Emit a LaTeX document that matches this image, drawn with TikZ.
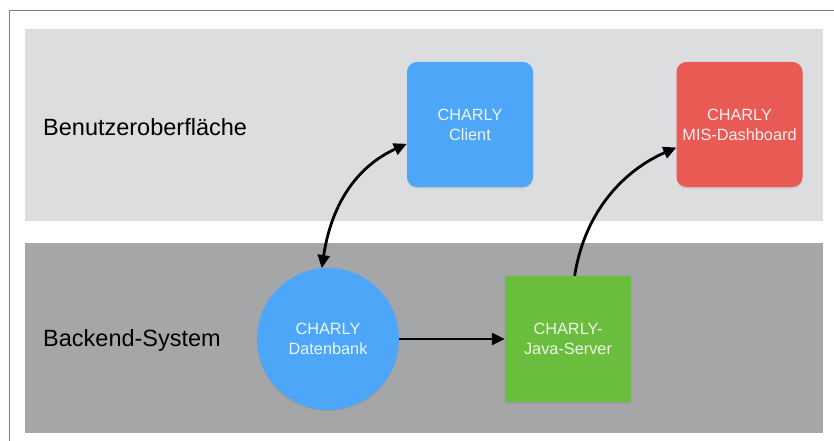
\documentclass[tikz,border=0pt]{standalone}
\usepackage{fontspec}
\setmainfont{Liberation Sans}
\usetikzlibrary{arrows.meta,shadows}
\definecolor{bandtop}{HTML}{DCDDDF}
\definecolor{bandbot}{HTML}{A4A6A7}
\definecolor{cblue}{HTML}{4DA6F7}
\definecolor{cred}{HTML}{E95A55}
\definecolor{cgreen}{HTML}{6BBE3D}
\definecolor{framegray}{HTML}{7F7F7F}
\tikzset{
  band/.style={fill=#1, draw=none},
  lbl/.style={font=\fontsize{23.5}{28}\selectfont, anchor=west, inner sep=0pt, text=black},
  boxtxt/.style={font=\fontsize{16.3}{20}\selectfont, align=center},
  sq/.style={draw=none, minimum width=126pt, minimum height=125pt, inner sep=0pt, boxtxt,
             drop shadow={opacity=0.2, shadow xshift=0pt, shadow yshift=-1.5pt}},
  rsq/.style={sq, rounded corners=10pt},
  conn/.style={line width=2.8pt, black},
  tip/.style={-{Triangle[length=13pt,width=12pt]}},
  dtip/.style={{Triangle[length=13pt,width=12pt]}-{Triangle[length=13pt,width=12pt]}}
}
\begin{document}
\begin{tikzpicture}[x=1pt,y=-1pt]
\useasboundingbox (0,0) rectangle (834,441);
\fill[white] (0,0) rectangle (834,441);
% outer frame
\draw[framegray, line width=1pt] (9.5,441) -- (9.5,10.7) -- (834,10.7);
% bands
\fill[band=bandtop] (25,29.5) rectangle (823,221);
\fill[band=bandbot] (25,243) rectangle (823,432.5);
% labels
\node[lbl] (lui) at (43,127) {Benutzeroberfläche};
\node[lbl] (lbe) at (43,340) {Backend-System};
% nodes
\node[rsq, fill=cblue, text=white!90!cblue] (client) at (470,124.5) {CHARLY\\Client};
\node[rsq, fill=cred, text=white!90!cred] (mis) at (739.5,124.5) {CHARLY\\MIS-Dashboard};
\node[circle, draw=none, fill=cblue, minimum size=142pt, inner sep=0pt, boxtxt, text=white!90!cblue,
      drop shadow={opacity=0.2, shadow xshift=0pt, shadow yshift=-1.5pt}] (db) at (328,339) {CHARLY\\Datenbank};
\node[sq, minimum height=126pt, fill=cgreen, text=white!88!cgreen] (java) at (568,339) {CHARLY-\\Java-Server};
% connectors
\draw[conn, tip] (db.east) -- (java.west);
\draw[conn, dtip] (db.95) .. controls (332,200) and (360,165) .. (client.197);
\draw[conn, tip] (java.84) .. controls (585,210) and (625,170) .. (mis.200);
\end{tikzpicture}
\end{document}
